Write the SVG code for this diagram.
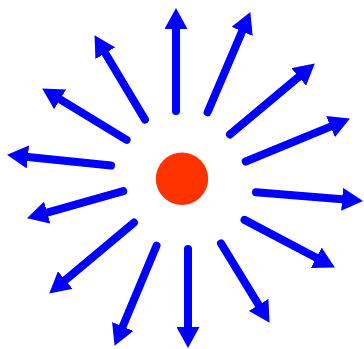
<svg xmlns="http://www.w3.org/2000/svg" width="364" height="349" viewBox="0 0 364 349">
<style>
.fl{stroke:#0000FF;stroke-width:8;stroke-linecap:round;fill:none;marker-end:url(#ah);}
</style>
<defs>
<marker id="ah" markerUnits="userSpaceOnUse" viewBox="0 -11.5 21 23" refX="0" refY="0" markerWidth="21" markerHeight="23" orient="auto">
<path d="M0,-11.5 L21,0 L0,11.5 Z" fill="#0000FF"/>
</marker>
</defs>
<rect width="364" height="349" fill="#FFFFFF"/>
<g id="field-lines">
<line class="fl" x1="176" y1="111" x2="176" y2="29"/>
<line class="fl" x1="145" y1="119.6" x2="105.3" y2="53.2"/>
<line class="fl" x1="126.6" y1="139.9" x2="60.1" y2="99.4"/>
<line class="fl" x1="111" y1="165.6" x2="27.9" y2="157"/>
<line class="fl" x1="207.6" y1="112.3" x2="242.1" y2="31.4"/>
<line class="fl" x1="230" y1="134.4" x2="298.7" y2="76.9"/>
<line class="fl" x1="245.7" y1="161.5" x2="330.5" y2="126.6"/>
<line class="fl" x1="123.2" y1="191.1" x2="47.2" y2="212.6"/>
<line class="fl" x1="134" y1="222.6" x2="65.3" y2="280.1"/>
<line class="fl" x1="156.5" y1="245.7" x2="122.7" y2="326.5"/>
<line class="fl" x1="188" y1="249" x2="188" y2="327"/>
<line class="fl" x1="256" y1="192.3" x2="342.1" y2="199.3"/>
<line class="fl" x1="244.5" y1="219.9" x2="316.3" y2="257.7"/>
<line class="fl" x1="221" y1="243.4" x2="258.6" y2="304.9"/>
</g>
<g id="charge">
<circle cx="182" cy="178.8" r="26.2" fill="#FF3300"/>
</g>
</svg>
